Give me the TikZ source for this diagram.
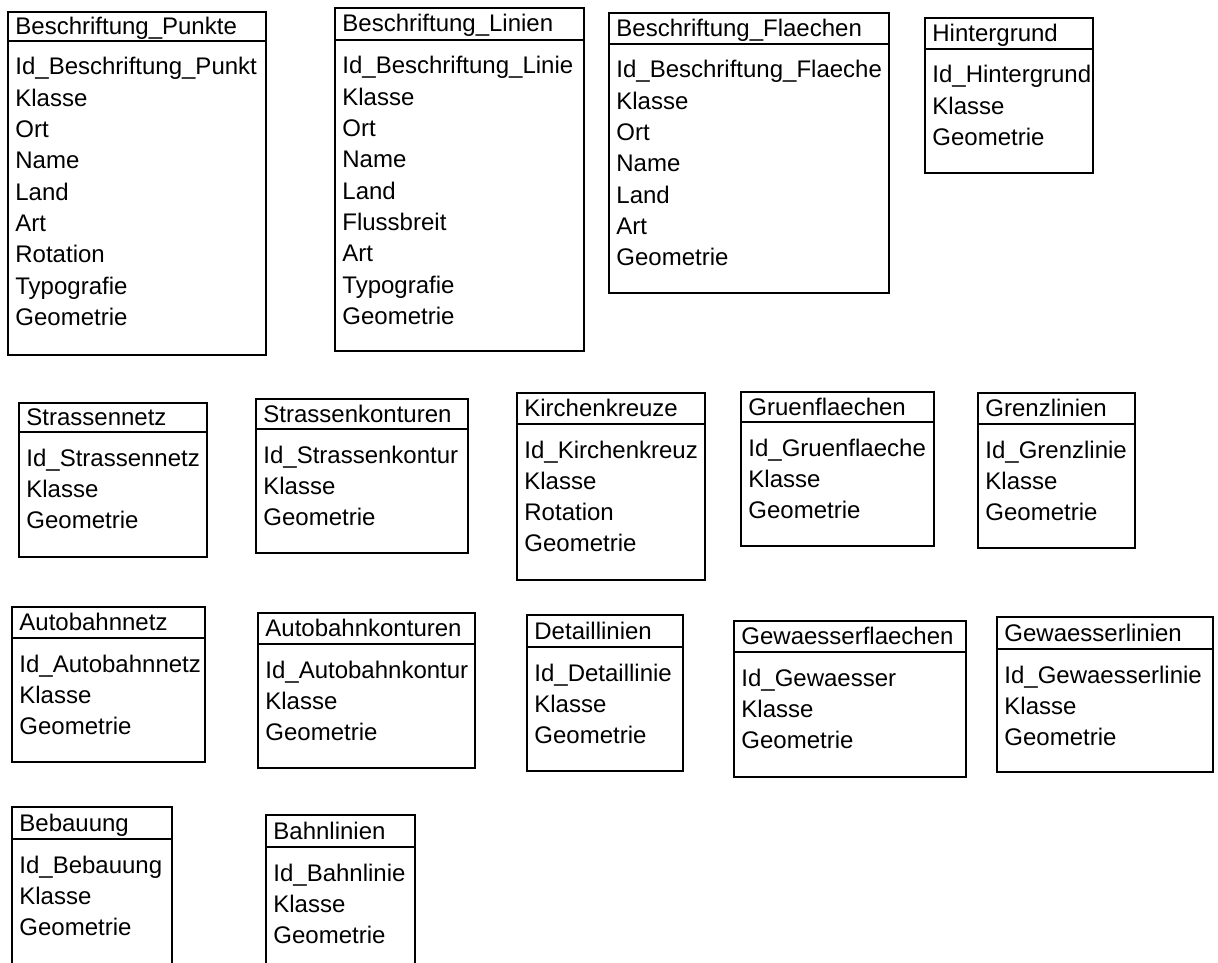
\documentclass[tikz,border=0pt]{standalone}
\usepackage{fontspec}
\setmainfont{Liberation Sans}
\tikzset{
% Box outline and the two kinds of text in a table
tabrand/.style={draw=black,line width=0.7pt},
kopf/.style={anchor=base west,inner sep=0pt,font=\fontsize{12}{14}\selectfont},
feld/.style={anchor=base west,inner sep=0pt,font=\fontsize{12}{14}\selectfont}
}
% #1 name, #2 left, #3 top, #4 right, #5 bottom, #6 header line, #7 title, #8 fields
\newcommand{\tabelle}[8]{
\draw[tabrand] (#2,#3) rectangle (#4,#5);
\draw[tabrand] (#2,#6) -- (#4,#6);
\node[kopf] (#1) at ({#2+7},{(#3+#6)/2+8}) {#7};
\foreach \feldname [count=\i] in {#8}
  \node[feld] (#1-\i) at ({#2+7},{#6+34+31.3*(\i-1)}) {\feldname};
}

\begin{document}
\begin{tikzpicture}[x=0.5pt,y=-0.5pt]
\useasboundingbox (0,0) rectangle (1218,962);
\clip (0,0) rectangle (1218,962);
% first row
\tabelle{punkte}{8}{12}{266}{355}{41}{Beschriftung\_Punkte}
  {Id\_Beschriftung\_Punkt,Klasse,Ort,Name,Land,Art,Rotation,Typografie,Geometrie}
\tabelle{linien}{335}{8}{584}{351}{40}{Beschriftung\_Linien}
  {Id\_Beschriftung\_Linie,Klasse,Ort,Name,Land,Flussbreit,Art,Typografie,Geometrie}
\tabelle{flaechen}{609}{13}{889}{293}{44}{Beschriftung\_Flaechen}
  {Id\_Beschriftung\_Flaeche,Klasse,Ort,Name,Land,Art,Geometrie}
\tabelle{hintergrund}{925}{18}{1093}{173}{49}{Hintergrund}
  {Id\_Hintergrund,Klasse,Geometrie}
% second row
\tabelle{strnetz}{19}{403}{207}{557}{432}{Strassennetz}
  {Id\_Strassennetz,Klasse,Geometrie}
\tabelle{strkontur}{256}{399}{468}{553}{429}{Strassenkonturen}
  {Id\_Strassenkontur,Klasse,Geometrie}
\tabelle{kreuze}{517}{393}{705}{580}{424}{Kirchenkreuze}
  {Id\_Kirchenkreuz,Klasse,Rotation,Geometrie}
\tabelle{gruen}{741}{392}{934}{546}{422}{Gruenflaechen}
  {Id\_Gruenflaeche,Klasse,Geometrie}
\tabelle{grenz}{978}{393}{1135}{548}{424}{Grenzlinien}
  {Id\_Grenzlinie,Klasse,Geometrie}
% third row
\tabelle{abnetz}{12}{607}{205}{762}{638}{Autobahnnetz}
  {Id\_Autobahnnetz,Klasse,Geometrie}
\tabelle{abkontur}{258}{613}{475}{768}{644}{Autobahnkonturen}
  {Id\_Autobahnkontur,Klasse,Geometrie}
\tabelle{detail}{527}{615}{683}{771}{647}{Detaillinien}
  {Id\_Detaillinie,Klasse,Geometrie}
\tabelle{gwflaeche}{734}{621}{966}{777}{652}{Gewaesserflaechen}
  {Id\_Gewaesser,Klasse,Geometrie}
\tabelle{gwlinie}{997}{617}{1213}{772}{649}{Gewaesserlinien}
  {Id\_Gewaesserlinie,Klasse,Geometrie}
% fourth row, cut off at the bottom
\tabelle{bebauung}{12}{807}{172}{975}{839}{Bebauung}
  {Id\_Bebauung,Klasse,Geometrie}
\tabelle{bahn}{266}{815}{415}{975}{847}{Bahnlinien}
  {Id\_Bahnlinie,Klasse,Geometrie}
\end{tikzpicture}
\end{document}
